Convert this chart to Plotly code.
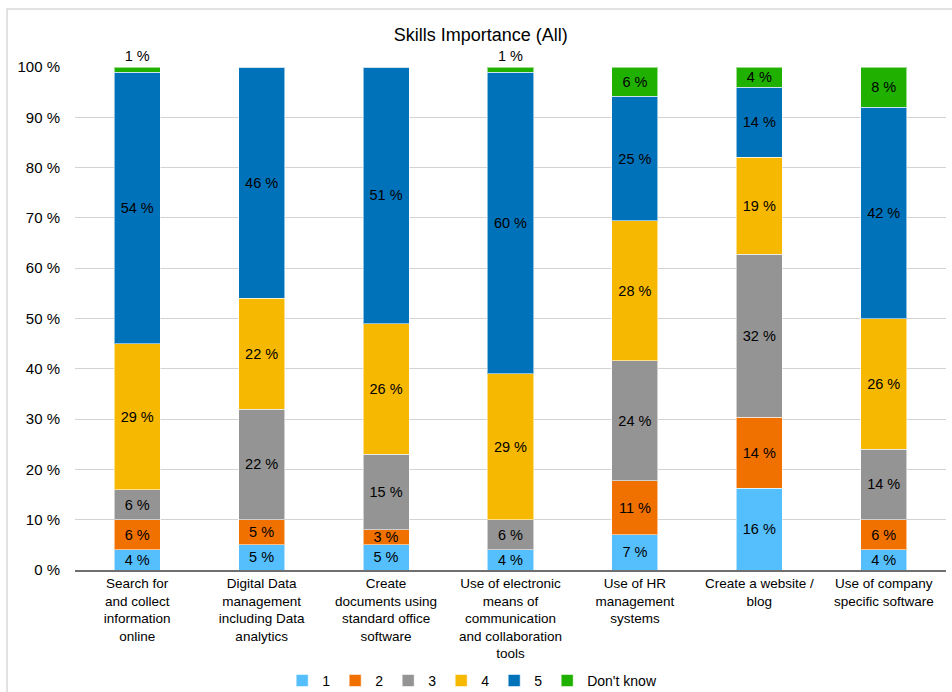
import plotly.graph_objects as go

categories = [
    "Search for<br>and collect<br>information<br>online",
    "Digital Data<br>management<br>including Data<br>analytics",
    "Create<br>documents using<br>standard office<br>software",
    "Use of electronic<br>means of<br>communication<br>and collaboration<br>tools",
    "Use of HR<br>management<br>systems",
    "Create a website /<br>blog",
    "Use of company<br>specific software",
]

s1 = [4, 5, 5, 4, 7.0, 16.3, 4]
s2 = [6, 5, 3, 0, 10.7, 14.1, 6]
s3 = [6, 22, 15, 6, 23.9, 32.4, 14]
s4 = [29, 22, 26, 29, 27.8, 19.3, 26]
s5 = [54, 46, 51, 60, 24.8, 13.9, 42]
s_dk = [1, 0, 0, 1, 5.8, 4.0, 8]

series_names = ["1", "2", "3", "4", "5", "Don't know"]
series_values = [s1, s2, s3, s4, s5, s_dk]
colors = ["#55BFFD", "#F07000", "#949494", "#F6B800", "#0072BA", "#1FB000"]

y_tickvals = [0, 10, 20, 30, 40, 50, 60, 70, 80, 90, 100]
y_ticktext = [f"{v} %" for v in y_tickvals]

FONT = "Liberation Sans, Arial, sans-serif"

fig = go.Figure()
for name, vals, col in zip(series_names, series_values, colors):
    texts = [f"{round(v)} %" if v > 0 else "" for v in vals]
    positions = ["outside" if v < 3 else "inside" for v in vals] if name == "Don't know" else "inside"
    fig.add_trace(go.Bar(
        x=categories, y=vals, name=name,
        marker=dict(color=col, line=dict(color="rgba(255,255,255,0.55)", width=1)),
        text=texts, texttemplate="%{text}",
        textposition=positions, insidetextanchor="middle", textangle=0,
        textfont=dict(family=FONT, size=14.5, color="black"),
        outsidetextfont=dict(family=FONT, size=14.5, color="black"),
        insidetextfont=dict(family=FONT, size=14.5, color="black"),
        cliponaxis=False,
        hoverinfo="skip",
    ))

fig.update_layout(
    barmode="stack",
    bargap=0.63,
    width=952, height=692,
    margin=dict(l=75, r=6, t=67, b=122, autoexpand=False),
    paper_bgcolor="white", plot_bgcolor="white",
    font=dict(family=FONT, size=13, color="black"),
    title=dict(text="Skills Importance (All)", x=0.505, xref="container", xanchor="center",
               y=0.95, yref="container", yanchor="middle",
               font=dict(family=FONT, size=18, color="black")),
    uniformtext=dict(minsize=14.5, mode="show"),
    showlegend=True,
    legend=dict(orientation="h", x=0.456, xanchor="center",
                y=0.016, yref="container", yanchor="middle",
                font=dict(family=FONT, size=14, color="black"), traceorder="normal"),
    shapes=[dict(type="rect", xref="paper", yref="paper",
                 x0=-0.078, x1=1.3, y0=-0.6, y1=1.1153,
                 line=dict(color="#d9d9d9", width=1.5), fillcolor="rgba(0,0,0,0)", layer="below")],
)
fig.update_xaxes(showline=True, linecolor="#6f6f6f", linewidth=1.5, ticks="", automargin=False,
                 tickfont=dict(family=FONT, size=13.5, color="black"), showgrid=False)
fig.update_yaxes(range=[0, 100], tickvals=y_tickvals, ticktext=y_ticktext, automargin=False,
                 showgrid=True, gridcolor="#d3d3d3", gridwidth=1.2, zeroline=False,
                 ticklabelstandoff=14,
                 tickfont=dict(family=FONT, size=15, color="black"))

fig.write_html("out.html")
